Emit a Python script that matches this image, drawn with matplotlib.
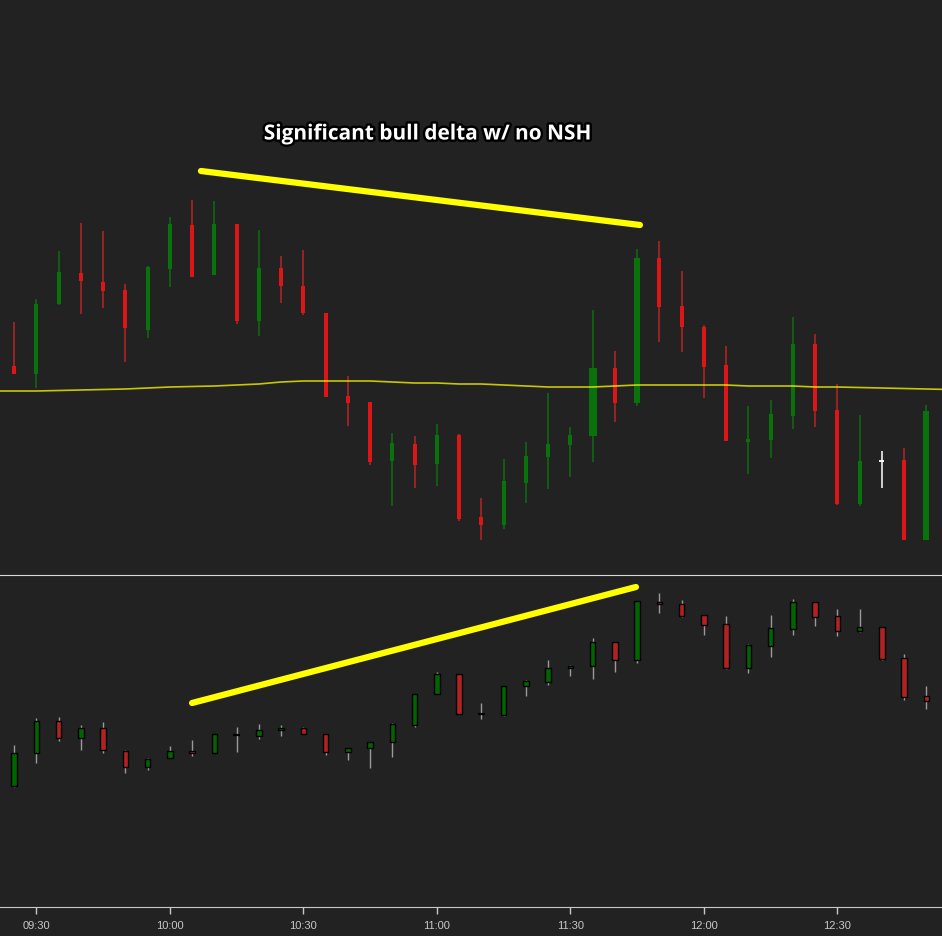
import numpy as np
import pandas as pd
import matplotlib
matplotlib.use("Agg")
import matplotlib.pyplot as plt
import matplotlib.patheffects as pe

# 5-minute bars, 09:25 .. 12:50
bar_times = pd.date_range("2024-01-02 09:25", periods=42, freq="5min")

# price panel (arbitrary price units)
p_open = [234, 226, 296, 327, 318, 310, 270, 331, 375, 325, 376, 279, 332, 314,
          287, 204, 198, 139, 156, 136, 165, 83, 75, 117, 143, 155, 164, 232,
          197, 342, 294, 273, 235, 158, 160, 184, 256, 190, 96, 139, 140, 60]
p_high = [278, 301, 349, 377, 369, 316, 334, 383, 400, 399, 376, 370, 344, 350,
          287, 224, 198, 167, 164, 176, 166, 102, 141, 158, 207, 173, 290, 249,
          351, 359, 329, 275, 254, 194, 200, 283, 266, 216, 185, 149, 152, 195]
p_low = [226, 212, 295, 286, 292, 238, 262, 313, 323, 325, 276, 264, 297, 285,
         203, 174, 135, 94, 112, 114, 79, 60, 71, 97, 111, 123, 138, 178,
         194, 258, 248, 202, 159, 126, 142, 171, 173, 95, 94, 112, 60, 60]
p_close = [226, 296, 328, 319, 309, 272, 333, 376, 323, 376, 279, 332, 314, 287,
           203, 197, 138, 157, 135, 165, 81, 75, 119, 144, 156, 165, 232, 197,
           342, 293, 273, 233, 159, 161, 186, 256, 189, 96, 139, 139, 60, 189]
# moving average, one value before the first bar and one after the last
ma_values = [209, 209, 209, 209.5, 210, 210.5, 211, 212, 213, 213.5, 214, 215,
             216, 218, 219, 219, 219, 219, 218, 217, 217, 216, 216, 215, 214,
             213, 213, 213, 214, 215, 215, 215, 215, 215, 214, 214, 214, 213,
             213, 212.5, 212, 211.5, 211, 210.5]

# cumulative delta panel
d_open = [14, 47, 79, 62, 72, 49, 33, 42, 49, 47, 65, 64, 70, 72,
          66, 48, 52, 58, 75, 106, 126, 86, 85, 114, 118, 132, 134, 158,
          140, 198, 196, 185, 176, 132, 154, 171, 198, 184, 169, 173, 142, 104]
d_high = [55, 82, 83, 75, 78, 50, 42, 54, 60, 66, 73, 76, 75, 73,
          66, 52, 58, 77, 106, 128, 126, 97, 114, 120, 140, 135, 162, 158,
          199, 207, 200, 185, 184, 156, 185, 201, 198, 191, 191, 173, 146, 114]
d_low = [13, 37, 59, 50, 47, 27, 30, 42, 44, 47, 48, 61, 64, 66,
         45, 40, 32, 43, 73, 106, 86, 81, 84, 104, 115, 124, 121, 128,
         137, 187, 183, 165, 131, 127, 143, 165, 174, 164, 168, 140, 100, 91]
d_close = [47, 79, 62, 72, 50, 33, 41, 49, 47, 66, 65, 70, 72, 66,
           48, 52, 58, 76, 106, 126, 86, 86, 114, 119, 132, 134, 158, 140,
           199, 196, 184, 175, 132, 155, 172, 198, 183, 169, 173, 141, 103, 99]

tick_labels = ["09:30", "10:00", "10:30", "11:00", "11:30", "12:00", "12:30"]

# hand-drawn trend lines: (bar index, value)
price_trend = [(8.4, 429), (28.13, 375)]
delta_trend = [(8.0, 97), (27.95, 213)]
note_text = "Significant bull delta w/ no NSH"
note_pos = (18.6, 466)

BG = "#222222"
W, H = 942, 936
PX = 1 / 22.25  # one pixel in bar units

fig = plt.figure(figsize=(W / 100, H / 100), dpi=100, facecolor=BG)
ax1 = fig.add_axes([0, (H - 574) / H, 1, 574 / H])
ax2 = fig.add_axes([0, (H - 907) / H, 1, (907 - 575) / H])

n = len(bar_times)
x = np.arange(n)
xlim = (-14.05 * PX, (W - 14.05) * PX)

for ax in (ax1, ax2):
    ax.set_facecolor(BG)
    ax.set_xlim(*xlim)
    for s in ax.spines.values():
        s.set_visible(False)
    ax.tick_params(left=False, labelleft=False)

# ---- price candles
po, ph, pl, pc = map(np.array, (p_open, p_high, p_low, p_close))
up = pc > po
dn = pc < po
flat = pc == po
body_w = np.full(n, 4 * PX)
body_w[26] = 8 * PX
body_w[[28, 41]] = 6 * PX

wick_col = np.where(up, "#0b6e0b", np.where(dn, "#b82424", "#ffffff"))
ax1.vlines(x, pl, ph, colors=wick_col, lw=1.1, zorder=2)
ax1.bar(x[up], (pc - po)[up], bottom=po[up], width=body_w[up],
        color="#0a720a", lw=0, zorder=3)
ax1.bar(x[dn], (pc - po)[dn], bottom=po[dn], width=body_w[dn],
        color="#dc1616", lw=0, zorder=3)
ax1.hlines(po[flat], x[flat] - 2.5 * PX, x[flat] + 2.5 * PX,
           colors="#ffffff", lw=1.3, zorder=3)

ma_x = np.arange(-1, n + 1)
ax1.plot(ma_x, ma_values, color="#f0f000", lw=1.2, alpha=0.8, zorder=4)

ax1.plot([p[0] for p in price_trend], [p[1] for p in price_trend],
         color="#ffff00", lw=4.5, solid_capstyle="round", zorder=5)
t = ax1.text(note_pos[0], note_pos[1], note_text, ha="center", va="center",
             color="white", fontsize=15, fontweight="bold",
             family=["Open Sans", "DejaVu Sans"], zorder=6)
t.set_path_effects([pe.withStroke(linewidth=3.5, foreground="black")])

ax1.set_ylim(26, 600)
ax1.tick_params(bottom=False, labelbottom=False)

# ---- delta candles
do, dh, dl, dc = map(np.array, (d_open, d_high, d_low, d_close))
up = dc > do
dn = dc < do
flat = dc == do
ax2.vlines(x, dl, dh, colors="#9a9a9a", lw=1, zorder=2)
ax2.bar(x[up], (dc - do)[up], bottom=do[up], width=5.5 * PX,
        color="#006400", edgecolor="black", lw=1, zorder=3)
ax2.bar(x[dn], (dc - do)[dn], bottom=do[dn], width=5.5 * PX,
        color="#b22222", edgecolor="black", lw=1, zorder=3)
ax2.hlines(do[flat], x[flat] - 3.2 * PX, x[flat] + 3.2 * PX,
           colors="black", lw=1.6, zorder=3)

ax2.plot([p[0] for p in delta_trend], [p[1] for p in delta_trend],
         color="#ffff00", lw=4.5, solid_capstyle="round", zorder=5)

ax2.set_ylim(-107, 225)
ax2.spines["top"].set_visible(True)
ax2.spines["top"].set_color("#d8d8d8")
ax2.spines["bottom"].set_visible(True)
ax2.spines["bottom"].set_color("#c8c8c8")

labels = bar_times.strftime("%H:%M")
tick_pos = [list(labels).index(lb) for lb in tick_labels]
ax2.set_xticks(tick_pos)
ax2.set_xticklabels(tick_labels)
ax2.tick_params(axis="x", colors="#c8c8c8", length=5, width=1, pad=5,
                labelsize=8, labelcolor="#c8c8c8")
for lb in ax2.get_xticklabels():
    lb.set_family(["Liberation Sans", "DejaVu Sans"])

fig.savefig("out.png", dpi=100, facecolor=BG)
